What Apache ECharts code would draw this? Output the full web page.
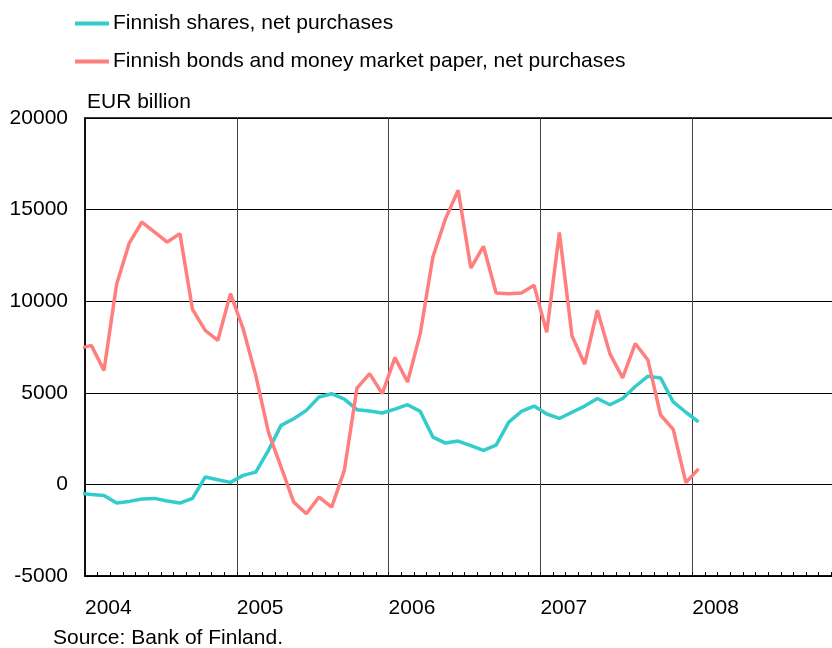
<!DOCTYPE html>
<html>
<head>
<meta charset="utf-8">
<script src="https://cdn.jsdelivr.net/npm/echarts@6/dist/echarts.min.js"></script>
<style>
  html, body { margin: 0; padding: 0; background: #fff; }
  #chart { width: 832px; height: 648px; }
</style>
</head>
<body>
<div id="chart"></div>
<script>
// monthly observations, Dec 2003 .. Jan 2008 (plotted mid-month)
var months = [];
for (var y = 2003; y <= 2008; y++) {
  for (var m = 1; m <= 12; m++) {
    var key = y + '-' + String(m).padStart(2, '0');
    if (key >= '2003-12' && key <= '2008-01') months.push(key);
  }
}

var sharesName = 'Finnish shares, net purchases';
var bondsName = 'Finnish bonds and money market paper, net purchases';

var shares = [
  -470,
  -546, -600, -1020, -928, -801, -764, -910, -1020, -764, 400, 255, 109,
  491, 673, 1856, 3221, 3585, 4040, 4768, 4950, 4659, 4077, 4004, 3895,
  4113, 4350, 3986, 2584, 2257, 2366, 2111, 1856, 2147, 3404, 3986, 4277,
  3844, 3600, 3938, 4275, 4688, 4350, 4688, 5344, 5906, 5813, 4500, 3938,
  3413
];

var bonds = [
  7410,
  7590, 6224, 10920, 13175, 14322, 13776, 13230, 13688, 9555, 8408, 7862, 10412,
  8500, 5951, 2856, 947, -966, -1602, -690, -1238, 764, 5260, 6044, 4952,
  6918, 5587, 8228, 12411, 14507, 16052, 11810, 12995, 10445, 10412, 10445, 10865,
  8300, 13750, 8100, 6563, 9506, 7125, 5813, 7688, 6788, 3788, 3000, 94,
  844
];

var firstYear = 2004;
var yTicks = { min: -5000, max: 20000, step: 5000 };

// month string -> position on the axis (months since Jan 2004, mid-month)
function monthPos(s) {
  var p = s.split('-');
  return (Number(p[0]) - firstYear) * 12 + (Number(p[1]) - 1) + 0.5;
}
function toPoints(values) {
  return values.map(function (v, i) { return [monthPos(months[i]), v]; });
}

var font = "'Liberation Sans', Arial, sans-serif";
var chart = echarts.init(document.getElementById('chart'));

chart.setOption({
  animation: false,
  textStyle: { fontFamily: font, color: '#000' },
  legend: {
    orient: 'vertical',
    left: 75,
    top: 13,
    padding: 0,
    itemGap: 17,
    itemWidth: 34,
    itemHeight: 4,
    icon: 'rect',
    textStyle: { fontFamily: font, fontSize: 21, color: '#000', padding: [0, 0, 0, -1] },
    data: [sharesName, bondsName]
  },
  grid: {
    left: 85,
    top: 118,
    width: 759,
    height: 458,
    outerBoundsMode: 'none',
    containLabel: false,
    show: true,
    borderColor: '#000',
    borderWidth: 1.5
  },
  xAxis: {
    type: 'value',
    min: 0,
    max: 60,
    interval: 12,
    axisLine: { show: true, onZero: false, lineStyle: { color: '#000', width: 1.5 } },
    axisTick: { show: true, inside: true, length: 4, lineStyle: { color: '#000' } },
    minorTick: { show: true, splitNumber: 12, length: 4, lineStyle: { color: '#000' } },
    splitLine: { show: true, lineStyle: { color: '#444', width: 1 } },
    axisLabel: {
      fontFamily: font,
      fontSize: 21,
      color: '#000',
      align: 'left',
      margin: 22,
      formatter: function (v) {
        return (v % 12 === 0 && v < 60) ? String(firstYear + v / 12) : '';
      }
    }
  },
  yAxis: {
    type: 'value',
    min: yTicks.min,
    max: yTicks.max,
    interval: yTicks.step,
    name: 'EUR billion',
    nameLocation: 'end',
    nameGap: 16,
    nameTextStyle: { fontFamily: font, fontSize: 21, color: '#000', align: 'left', verticalAlign: 'middle', padding: [0, 0, 0, 2] },
    axisLine: { show: true, lineStyle: { color: '#000', width: 1.5 } },
    axisTick: { show: false },
    splitLine: { show: true, lineStyle: { color: '#000', width: 1 } },
    axisLabel: {
      fontFamily: font, fontSize: 21, color: '#000', margin: 17,
      formatter: function (v) { return String(v); }
    }
  },
  series: [
    {
      name: sharesName,
      type: 'line',
      data: toPoints(shares),
      showSymbol: false,
      symbol: 'none',
      clip: true,
      lineStyle: { color: '#33CCCC', width: 3.5 },
      itemStyle: { color: '#33CCCC' }
    },
    {
      name: bondsName,
      type: 'line',
      data: toPoints(bonds),
      showSymbol: false,
      symbol: 'none',
      clip: true,
      lineStyle: { color: '#FF7F7F', width: 3.5 },
      itemStyle: { color: '#FF7F7F' }
    }
  ],
  graphic: [
    {
      type: 'text',
      left: 53,
      top: 628,
      style: { text: 'Source: Bank of Finland.', fontFamily: font, fontSize: 21, fill: '#000' }
    }
  ]
});
</script>
</body>
</html>
